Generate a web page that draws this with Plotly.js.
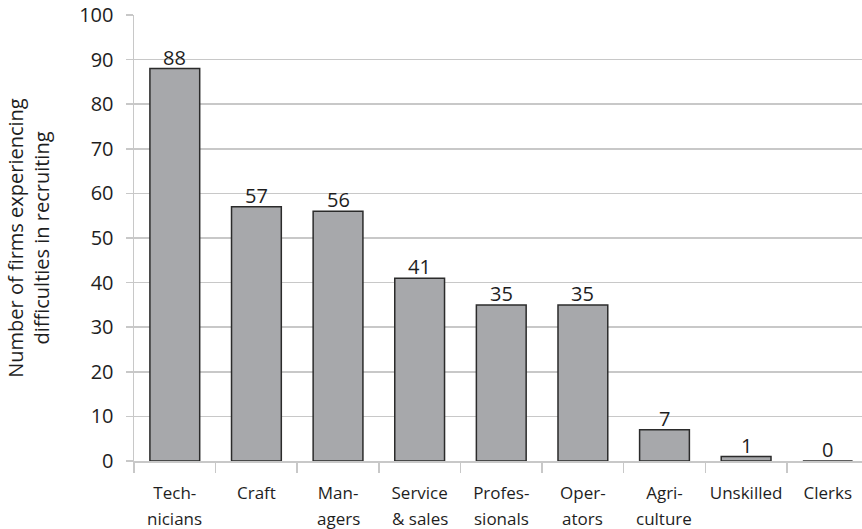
<!DOCTYPE html>
<html>
<head>
<meta charset="utf-8">
<script src="https://cdn.plot.ly/plotly-3.0.1.min.js"></script>
<style>
  html, body { margin: 0; padding: 0; background: #ffffff; }
  #chart { width: 862px; height: 529px; }
</style>
</head>
<body>
<div id="chart"></div>
<script>
// Occupation groups, in display order
const categories = ["Technicians", "Craft", "Managers", "Service & sales", "Professionals",
                    "Operators", "Agriculture", "Unskilled", "Clerks"];
// Axis labels, hyphenated over two lines (first line / second line)
const labelLine1 = ["Tech-", "Craft", "Man-", "Service", "Profes-", "Oper-", "Agri-", "Unskilled", "Clerks"];
const labelLine2 = ["nicians", "", "agers", "& sales", "sionals", "ators", "culture", "", ""];
// Number of firms reporting recruitment difficulties
const firms = [88, 57, 56, 41, 35, 35, 7, 1, 0];

const yTicks = [0, 10, 20, 30, 40, 50, 60, 70, 80, 90, 100];

const FONT = "Open Sans, DejaVu Sans, sans-serif";
const INK = "#1e1e1e";
const GRID = "#c8c8c8";

const trace = {
  type: "bar",
  x: categories,
  y: firms,
  marker: { color: "#a7a8ab", line: { color: "#2b2b2b", width: 1.5 } },
  hoverinfo: "skip"
};

// Value labels sitting on top of each bar
const valueLabels = firms.map((v, i) => ({
  x: categories[i],
  xref: "x",
  y: v,
  yref: "y",
  yanchor: "bottom",
  yshift: -4,
  text: String(v),
  showarrow: false,
  font: { family: FONT, size: 20, color: INK }
}));

// Second line of each wrapped category label, set below the first
const secondLines = labelLine2
  .map((t, i) => ({ t, i }))
  .filter(d => d.t !== "")
  .map(d => ({
    x: categories[d.i],
    xref: "x",
    y: 0,
    yref: "paper",
    yanchor: "middle",
    yshift: -57,
    text: d.t,
    showarrow: false,
    font: { family: FONT, size: 17, color: INK }
  }));

const layout = {
  width: 862,
  height: 529,
  margin: { l: 134, r: 0, t: 15, b: 68 },
  paper_bgcolor: "#ffffff",
  plot_bgcolor: "#ffffff",
  showlegend: false,
  bargap: 0.39,
  font: { family: FONT, size: 17, color: INK },
  annotations: valueLabels.concat(secondLines),
  xaxis: {
    type: "category",
    range: [-0.5, 8.42],
    tickvals: categories,
    ticktext: labelLine1,
    tickangle: 0,
    tickson: "boundaries",
    ticks: "outside",
    ticklen: 10,
    tickcolor: GRID,
    tickwidth: 1.5,
    ticklabelstandoff: 16,
    showline: true,
    linecolor: GRID,
    linewidth: 1.5,
    showgrid: false,
    tickfont: { family: FONT, size: 17, color: INK },
    automargin: false
  },
  yaxis: {
    range: [0, 100],
    tickvals: yTicks,
    ticks: "outside",
    ticklen: 7,
    tickcolor: GRID,
    tickwidth: 1.5,
    ticklabelstandoff: 8,
    showline: true,
    linecolor: GRID,
    linewidth: 1.5,
    showgrid: true,
    gridcolor: GRID,
    gridwidth: 1.5,
    zeroline: false,
    tickfont: { family: FONT, size: 20, color: INK },
    title: {
      text: "Number of firms experiencing<br>difficulties in recruiting",
      font: { family: FONT, size: 20, color: INK },
      standoff: 24
    },
    automargin: false
  }
};

Plotly.newPlot("chart", [trace], layout, { displayModeBar: false, staticPlot: true });
</script>
</body>
</html>
